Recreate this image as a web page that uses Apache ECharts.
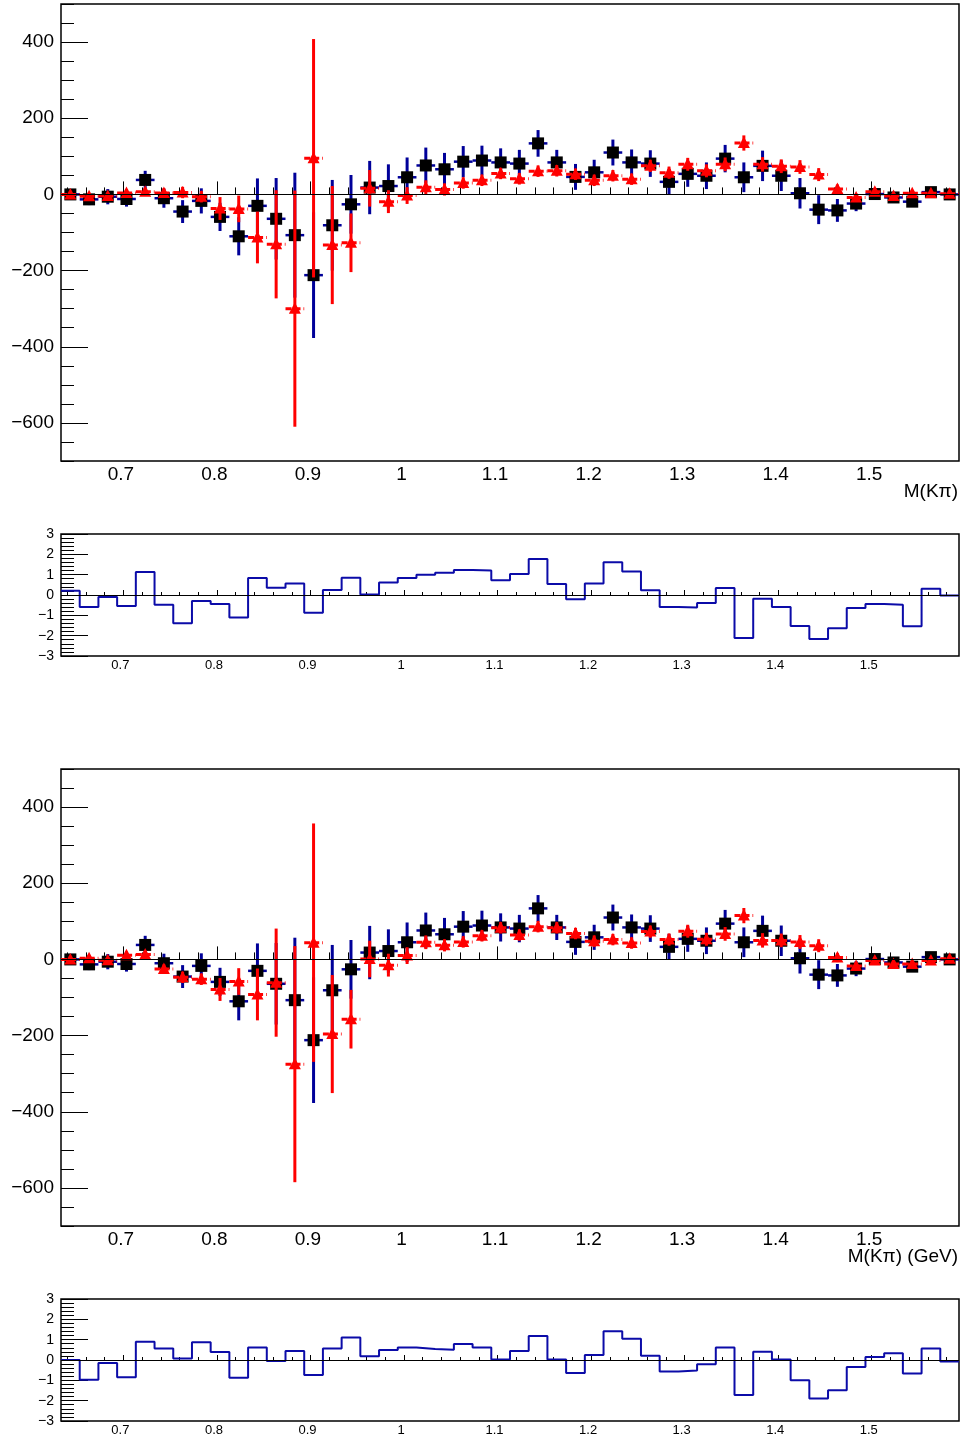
<!DOCTYPE html>
<html><head><meta charset="utf-8">
<script src="https://cdn.jsdelivr.net/npm/echarts@6.0.0/dist/echarts.min.js"></script>
<style>html,body{margin:0;padding:0;background:#fff}#c{width:962px;height:1437px}</style>
</head><body><div id="c"></div>
<script>
// ---- binning (categories) ----
const binLow = 0.6333, binWidth = 0.02, nBins = 48;
const X_MIN = 0.6333, X_MAX = 1.5933;
const binCenters = Array.from({length: nBins}, (_, i) => +(binLow + binWidth * (i + 0.5)).toFixed(4));
const binEdges = Array.from({length: nBins + 1}, (_, i) => +(binLow + binWidth * i).toFixed(4));

// ---- tick labels ----
const xMajorTicks = [0.7, 0.8, 0.9, 1.0, 1.1, 1.2, 1.3, 1.4, 1.5];
const xMinorTicks = [0.64,0.66,0.68,0.70,0.72,0.74,0.76,0.78,0.80,0.82,0.84,0.86,0.88,0.90,0.92,0.94,0.96,0.98,1.00,1.02,1.04,1.06,1.08,1.10,1.12,1.14,1.16,1.18,1.20,1.22,1.24,1.26,1.28,1.30,1.32,1.34,1.36,1.38,1.40,1.42,1.44,1.46,1.48,1.50,1.52,1.54,1.56,1.58];
const yMainMajor = [-600, -400, -200, 0, 200, 400];
const yMainMinor = [-700,-650,-600,-550,-500,-450,-400,-350,-300,-250,-200,-150,-100,-50,0,50,100,150,200,250,300,350,400,450,500];
const yResMajor = [-3, -2, -1, 0, 1, 2, 3];
const yResMinor = [-3,-2.8,-2.6,-2.4,-2.2,-2,-1.8,-1.6,-1.4,-1.2,-1,-0.8,-0.6,-0.4,-0.2,0,0.2,0.4,0.6,0.8,1,1.2,1.4,1.6,1.8,2,2.2,2.4,2.6,2.8,3];
const xTitleTop = 'M(K\u03c0)';
const xTitleBottom = 'M(K\u03c0) (GeV)';

// ---- data: black squares (shared in both panels) ----
const dataVal = [0, -13, -6, -12, 38, -10, -45, -17, -59, -110, -30, -64, -107, -212, -81, -26, 18, 22, 45, 76, 66, 86, 89, 84, 81, 134, 84, 46, 58, 110, 84, 81, 33, 54, 49, 94, 45, 75, 49, 3, -40, -42, -24, 1, -8, -19, 6, 0];
const dataErr = [8, 15, 20, 20, 24, 25, 30, 33, 37, 50, 72, 107, 164, 165, 119, 77, 70, 57, 52, 47, 43, 41, 39, 37, 36, 35, 33, 34, 33, 34, 34, 35, 34, 34, 35, 36, 39, 40, 40, 40, 38, 30, 20, 12, 10, 10, 8, 5];

// ---- red triangles ----
const fitTopVal = [0, -5, -4, 4, 7, 4, 5, -6, -37, -38, -113, -131, -300, 95, -133, -127, 16, -19, -3, 19, 13, 30, 37, 55, 41, 61, 62, 53, 37, 49, 40, 75, 57, 79, 62, 79, 135, 79, 74, 72, 52, 14, -8, 7, -4, 3, 3, 2];
const fitBotVal = [0, 3, -2, 11, 13, -25, -47, -52, -79, -58, -92, -61, -275, 44, -196, -157, 1, -15, 10, 45, 37, 46, 62, 83, 64, 86, 83, 68, 48, 52, 43, 73, 52, 74, 53, 67, 115, 50, 50, 46, 36, 5, -17, -3, -12, -12, -3, 2];
const fitErr = [5, 8, 8, 10, 10, 12, 15, 15, 30, 35, 68, 142, 310, 313, 155, 77, 48, 30, 22, 18, 16, 15, 15, 15, 15, 15, 15, 15, 15, 15, 15, 16, 16, 17, 17, 18, 20, 19, 18, 18, 17, 12, 10, 8, 8, 7, 6, 5];

// ---- residuals ----
const resTop = [0.21, -0.59, -0.10, -0.54, 1.13, -0.48, -1.39, -0.30, -0.44, -1.11, 0.84, 0.36, 0.56, -0.87, 0.25, 0.85, 0.02, 0.62, 0.84, 1.00, 1.10, 1.23, 1.20, 0.72, 1.03, 1.77, 0.54, -0.21, 0.56, 1.61, 1.15, 0.23, -0.59, -0.62, -0.39, 0.34, -2.11, -0.18, -0.59, -1.52, -2.16, -1.64, -0.64, -0.44, -0.48, -1.54, 0.31, -0.03];
const resBot = [0.00, -0.97, -0.15, -0.85, 0.90, 0.56, 0.07, 0.87, 0.39, -0.87, 0.62, -0.05, 0.44, -0.74, 0.57, 1.11, 0.18, 0.49, 0.61, 0.54, 0.51, 0.79, 0.62, 0.03, 0.44, 1.18, 0.02, -0.64, 0.25, 1.41, 1.05, 0.21, -0.56, -0.52, -0.21, 0.62, -1.72, 0.41, 0.03, -1.00, -1.89, -1.49, -0.34, 0.15, 0.33, -0.67, 0.56, -0.07];

const FONT = 'Liberation Sans, Arial, Helvetica, sans-serif';
const BLUE = '#000099';
const RED = '#ff0000';
const fmtNum = v => { const s = String(+(+v).toFixed(2)); return v < 0 ? '\u2212' + s.slice(1) : s; };

function xAxes(gi, majLen, minLen, fs, margin, shift) {
  return [
    { type: 'value', gridIndex: gi, position: 'bottom', offset: 0, min: X_MIN, max: X_MAX,
      axisLine: { show: false }, splitLine: { show: false },
      axisTick: { show: true, inside: true, length: majLen, customValues: xMajorTicks, lineStyle: { color: '#000', width: 1 } },
      axisLabel: { show: true, customValues: xMajorTicks, formatter: fmtNum, fontSize: fs, fontFamily: FONT, color: '#000', margin: margin, padding: [0, shift, 0, 0] } },
    { type: 'value', gridIndex: gi, position: 'bottom', offset: 0, min: X_MIN, max: X_MAX,
      axisLine: { show: false }, splitLine: { show: false },
      axisTick: { show: true, inside: true, length: minLen, customValues: xMinorTicks, lineStyle: { color: '#000', width: 1 } },
      axisLabel: { show: false } }
  ];
}
function yAxes(gi, min, max, major, minor, fs, margin) {
  return [
    { type: 'value', gridIndex: gi, position: 'left', offset: 0, min: min, max: max,
      axisLine: { show: false }, splitLine: { show: false },
      axisTick: { show: true, inside: true, length: 27, customValues: major, lineStyle: { color: '#000', width: 1 } },
      axisLabel: { show: true, customValues: major, formatter: fmtNum, fontSize: fs, fontFamily: FONT, color: '#000', margin: margin } },
    { type: 'value', gridIndex: gi, position: 'left', offset: 0, min: min, max: max,
      axisLine: { show: false }, splitLine: { show: false },
      axisTick: { show: true, inside: true, length: 13, customValues: minor, lineStyle: { color: '#000', width: 1 } },
      axisLabel: { show: false } }
  ];
}

function renderPoint(kind) {
  return function (params, api) {
    const x = api.value(0), y = api.value(1), e = api.value(2);
    const p = api.coord([x, y]);
    const pT = api.coord([x, y + e]);
    const pB = api.coord([x, y - e]);
    const pL = api.coord([x - binWidth / 2, y]);
    const pR = api.coord([x + binWidth / 2, y]);
    const children = [];
    if (kind === 'data') {
      children.push({ type: 'line', shape: { x1: pL[0], y1: p[1], x2: pR[0], y2: p[1] }, style: { stroke: BLUE, lineWidth: 2.5 } });
      children.push({ type: 'line', shape: { x1: p[0], y1: pT[1], x2: p[0], y2: pB[1] }, style: { stroke: BLUE, lineWidth: 3 } });
      children.push({ type: 'rect', shape: { x: p[0] - 6, y: p[1] - 6, width: 12, height: 12 }, style: { fill: '#000' } });
    } else {
      children.push({ type: 'line', shape: { x1: pL[0], y1: p[1], x2: pR[0], y2: p[1] }, style: { stroke: RED, lineWidth: 3, lineDash: [6, 3] } });
      children.push({ type: 'line', shape: { x1: p[0], y1: pT[1], x2: p[0], y2: pB[1] }, style: { stroke: RED, lineWidth: 3 } });
      children.push({ type: 'polygon', shape: { points: [[p[0], p[1] - 6.5], [p[0] + 6, p[1] + 5], [p[0] - 6, p[1] + 5]] }, style: { fill: RED } });
    }
    return { type: 'group', children: children };
  };
}

const zeroLine = { silent: true, symbol: ['none', 'none'], label: { show: false }, animation: false,
  lineStyle: { color: '#000', width: 1, type: 'solid' }, data: [{ yAxis: 0 }] };

function pointSeries(axisIdx, vals, errs, kind, withZero) {
  const s = {
    type: 'custom', xAxisIndex: axisIdx, yAxisIndex: axisIdx, clip: true,
    renderItem: renderPoint(kind),
    encode: { x: 0, y: 1 },
    data: binCenters.map((c, i) => [c, vals[i], errs[i]]),
    z: kind === 'data' ? 3 : 4
  };
  if (withZero) s.markLine = zeroLine;
  return s;
}
function histSeries(axisIdx, vals) {
  const d = binEdges.map((e, i) => [e, vals[Math.min(i, nBins - 1)]]);
  return {
    type: 'line', xAxisIndex: axisIdx, yAxisIndex: axisIdx, step: 'end', showSymbol: false, symbol: 'none',
    lineStyle: { color: '#0b0ba8', width: 2 }, data: d, markLine: zeroLine, z: 3
  };
}

const grids = [
  { left: 61, top: 4, width: 898, height: 457 },
  { left: 61, top: 534, width: 898, height: 122 },
  { left: 61, top: 769, width: 898, height: 457 },
  { left: 61, top: 1299, width: 898, height: 122 }
].map(g => Object.assign(g, { show: true, borderColor: '#000', borderWidth: 1.5, backgroundColor: 'transparent' }));

const xAxis = [].concat(
  xAxes(0, 13, 7, 19, 4, 5),
  xAxes(1, 5, 3, 13, 3, 6),
  xAxes(2, 13, 7, 19, 4, 5),
  xAxes(3, 5, 3, 13, 3, 6)
);
const yAxis = [].concat(
  yAxes(0, -700, 500, yMainMajor, yMainMinor, 19, 7),
  yAxes(1, -3, 3, yResMajor, yResMinor, 14, 7),
  yAxes(2, -700, 500, yMainMajor, yMainMinor, 19, 7),
  yAxes(3, -3, 3, yResMajor, yResMinor, 14, 7)
);

const chart = echarts.init(document.getElementById('c'), null, { renderer: 'canvas' });
chart.setOption({
  animation: false,
  backgroundColor: '#fff',
  grid: grids,
  xAxis: xAxis,
  yAxis: yAxis,
  graphic: [
    { type: 'text', right: 4, top: 482, style: { text: xTitleTop, font: '19px ' + FONT, fill: '#000' } },
    { type: 'text', right: 4, top: 1247, style: { text: xTitleBottom, font: '19px ' + FONT, fill: '#000' } }
  ],
  series: [
    pointSeries(0, dataVal, dataErr, 'data', true),
    pointSeries(0, fitTopVal, fitErr, 'fit', false),
    histSeries(2, resTop),
    pointSeries(4, dataVal, dataErr, 'data', true),
    pointSeries(4, fitBotVal, fitErr, 'fit', false),
    histSeries(6, resBot)
  ]
});
</script>
</body></html>
